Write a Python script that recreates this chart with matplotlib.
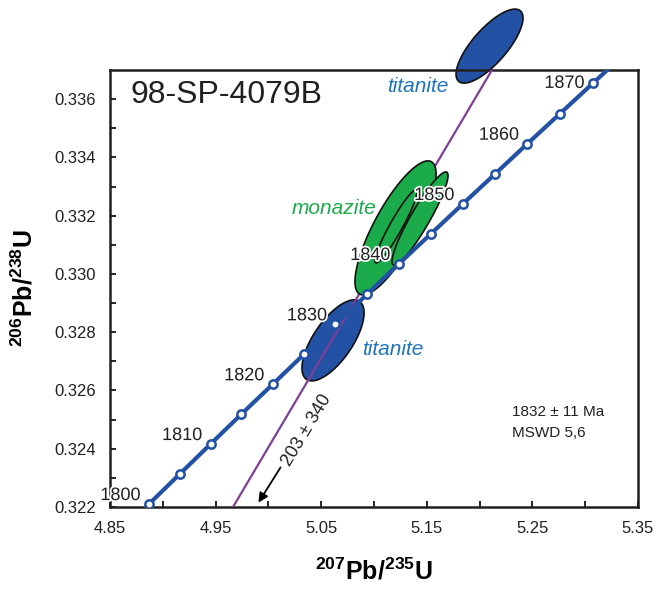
# U-Pb concordia diagram, sample 98-SP-4079B

import numpy as np
import matplotlib
matplotlib.use("Agg")
import matplotlib.pyplot as plt
import matplotlib.patheffects as pe
from matplotlib.patches import Polygon

plt.rcParams["font.family"] = ["Liberation Sans", "DejaVu Sans"]
plt.rcParams["mathtext.fontset"] = "custom"
plt.rcParams["mathtext.rm"] = "Liberation Sans"
plt.rcParams["mathtext.bf"] = "Liberation Sans:bold"

# concordia points (Ma), 207Pb/235U and 206Pb/238U
AGES = [1800, 1805, 1810, 1815, 1820, 1825, 1830, 1835,
        1840, 1845, 1850, 1855, 1860, 1865, 1870, 1875]
CONC_X = [4.8869, 4.9160, 4.9452, 4.9745, 5.0040, 5.0336, 5.0634, 5.0934,
          5.1234, 5.1537, 5.1840, 5.2146, 5.2453, 5.2761, 5.3071, 5.3383]
CONC_Y = [0.32210, 0.32313, 0.32416, 0.32519, 0.32621, 0.32724, 0.32827, 0.32930,
          0.33034, 0.33137, 0.33240, 0.33343, 0.33447, 0.33550, 0.33654, 0.33758]
LABELLED = [1800, 1810, 1820, 1830, 1840, 1850, 1860, 1870]

# discordia line end points
DISC_X = [4.9665, 5.2117]
DISC_Y = [0.3220, 0.3370]

# error ellipses: centre x, centre y, half-width x, half-width y, rho
TITANITE = [
    (5.2094, 0.33782, 0.0317, 0.00127, 0.76),
    (5.0612, 0.32772, 0.0294, 0.00139, 0.68),
]
MONAZITE = [
    (5.1204, 0.33158, 0.0384, 0.00230, 0.80),
    (5.1436, 0.33190, 0.0265, 0.00160, 0.92),
    (5.1208, 0.33163, 0.0199, 0.00125, 0.94),
]

BLUE = "#2351a3"
PURPLE = "#7f3f98"
GREEN = "#1bab4b"
TEXT_BLUE = "#1c75bc"


def ellipse_points(cx, cy, sx, sy, rho, n=200):
    t = np.linspace(0, 2 * np.pi, n)
    x = cx + sx * np.cos(t)
    y = cy + sy * (rho * np.cos(t) + np.sqrt(1 - rho ** 2) * np.sin(t))
    return np.column_stack([x, y])


fig = plt.figure(figsize=(6.66, 5.94), dpi=100)
ax = fig.add_axes([110 / 666, 87 / 594, 528 / 666, 437 / 594])

for cx, cy, sx, sy, rho in TITANITE:
    ax.add_patch(Polygon(ellipse_points(cx, cy, sx, sy, rho), closed=True,
                         facecolor=BLUE, edgecolor="#111111", linewidth=1.2,
                         zorder=2, clip_on=False))

ax.plot(DISC_X, DISC_Y, color=PURPLE, linewidth=1.6, zorder=3)

for cx, cy, sx, sy, rho in MONAZITE:
    ax.add_patch(Polygon(ellipse_points(cx, cy, sx, sy, rho), closed=True,
                         facecolor=GREEN, edgecolor="#111111", linewidth=1.2,
                         zorder=4))

ax.plot(CONC_X, CONC_Y, color=BLUE, linewidth=3.0, zorder=5,
        solid_capstyle="butt")
ax.plot(CONC_X[:-1], CONC_Y[:-1], linestyle="none", marker="o", markersize=6,
        markerfacecolor="white", markeredgecolor=BLUE, markeredgewidth=1.8,
        zorder=6)

halo = [pe.withStroke(linewidth=2.5, foreground="white")]
for age, x, y in zip(AGES, CONC_X, CONC_Y):
    if age in LABELLED:
        # top label sits beside its point so it stays under the frame
        va = "center" if age == 1870 else "bottom"
        ax.annotate(str(age), (x, y), xytext=(-6, 0), textcoords="offset points",
                    ha="right", va=va, fontsize=13, color="#231f20",
                    zorder=7, annotation_clip=False, path_effects=halo)

ax.text(4.869, 0.33614, "98-SP-4079B", fontsize=23, ha="left", va="center",
        color="#231f20")
ax.text(5.1417, 0.33642, "titanite", fontsize=15, style="italic",
        color=TEXT_BLUE, ha="center", va="center")
ax.text(5.118, 0.32739, "titanite", fontsize=15, style="italic",
        color=TEXT_BLUE, ha="center", va="center")
ax.text(5.0621, 0.33223, "monazite", fontsize=15, style="italic",
        color=GREEN, ha="center", va="center")
ax.text(5.2307, 0.32526, "1832 \u00b1 11 Ma", fontsize=11, ha="left",
        va="center", color="#231f20")
ax.text(5.2307, 0.32454, "MSWD 5,6", fontsize=11, ha="left", va="center",
        color="#231f20")
ax.text(5.036, 0.32464, "203 \u00b1 340", fontsize=13, rotation=59,
        ha="center", va="center", color="#231f20")
ax.annotate("", xy=(4.9892, 0.32207), xytext=(5.0129, 0.32344),
            arrowprops=dict(arrowstyle="-|>", color="black", lw=1.3,
                            mutation_scale=14))

ax.set_xlim(4.85, 5.35)
ax.set_ylim(0.322, 0.337)

xticks = np.arange(4.85, 5.351, 0.05)
ax.set_xticks(xticks)
ax.set_xticklabels([f"{v:.2f}" if i % 2 == 0 else "" for i, v in enumerate(xticks)])
yticks = np.arange(0.322, 0.3366, 0.001)
ax.set_yticks(yticks)
ax.set_yticklabels([f"{v:.3f}" if i % 2 == 0 else "" for i, v in enumerate(yticks)])
ax.tick_params(direction="in", length=4, width=1.2, labelsize=12,
               labelcolor="#231f20", pad=10)
for spine in ax.spines.values():
    spine.set_linewidth(1.8)
    spine.set_color("#231f20")

ax.set_xlabel(r"$^{\mathbf{207}}$Pb/$^{\mathbf{235}}$U", fontsize=18,
              fontweight="bold", labelpad=16)
ax.set_ylabel(r"$^{\mathbf{206}}$Pb/$^{\mathbf{238}}$U", fontsize=18,
              fontweight="bold", labelpad=12)

fig.savefig("out.png", dpi=100)
